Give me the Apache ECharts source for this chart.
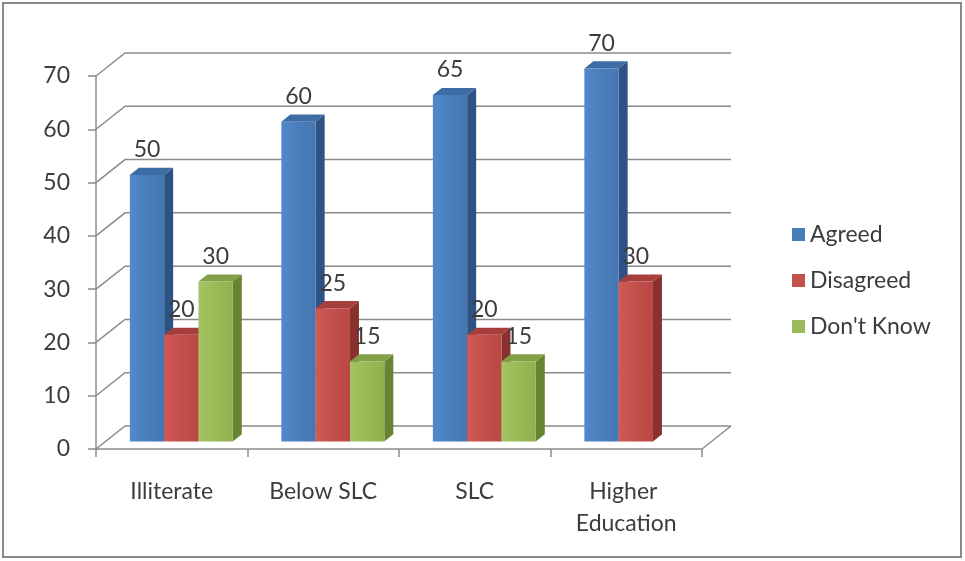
<!DOCTYPE html>
<html>
<head>
<meta charset="utf-8">
<script src="https://cdn.jsdelivr.net/npm/echarts@6/dist/echarts.min.js"></script>
<style>
  html, body { margin: 0; padding: 0; background: #fff; }
  #chart { width: 965px; height: 561px; }
</style>
</head>
<body>
<div id="chart"></div>
<script>
// Survey responses by education level
const categories = ['Illiterate', 'Below SLC', 'SLC', 'Higher Education'];
const agreed = [50, 60, 65, 70];
const disagreed = [20, 25, 20, 30];
const dontKnow = [30, 15, 15, '-'];
const seriesNames = ['Agreed', 'Disagreed', "Don't Know"];
const wallTicks = [0, 10, 20, 30, 40, 50, 60, 70];

// Pseudo-3D depth of the plot box (front plane -> back wall), in pixels
const DEPTH_X = 29;
const DEPTH_Y = -23;
const BAR_FRONT = 0.33;   // bars start this far into the depth
const BAR_DEPTH = 0.31;   // and are this deep
const BAR_RATIO = 0.2265; // single bar width / category width

const FONT = 'Lato, "Liberation Sans", sans-serif';
const TEXT_COLOR = '#3c3c3c';
const LINE_COLOR = '#8c8c8c';

const palette = [
  { front: ['#5089cb', '#4a7ebb', '#4477b2'], side: '#2d5283', top: '#3e6ca5' },
  { front: ['#d05955', '#c44f4b', '#b94845'], side: '#8a302e', top: '#a63f3c' },
  { front: ['#a4c463', '#9aba58', '#90b04f'], side: '#678433', top: '#82a045' }
];

function wallRender(params, api) {
  const v = api.value(1);
  const y = api.coord([0, v])[1];
  const cs = params.coordSys;
  const x0 = cs.x, x1 = cs.x + cs.width;
  const style = { stroke: LINE_COLOR, lineWidth: 1.5, fill: null };
  const children = [{
    type: 'polyline',
    shape: { points: [[x0, y], [x0 + DEPTH_X, y + DEPTH_Y], [x1 + DEPTH_X, y + DEPTH_Y]] },
    style: style
  }];
  if (v === 0) {
    children.push({
      type: 'line',
      shape: { x1: x1, y1: y, x2: x1 + DEPTH_X, y2: y + DEPTH_Y },
      style: style
    });
  }
  return { type: 'group', children: children };
}

function barRender(k) {
  return function (params, api) {
    const i = api.value(0);
    const v = api.value(1);
    if (isNaN(v)) return null;
    const topPt = api.coord([i, v]);
    const basePt = api.coord([i, 0]);
    const catW = api.size([1, 0])[0];
    const bw = catW * BAR_RATIO;
    const ox = DEPTH_X * BAR_FRONT, oy = DEPTH_Y * BAR_FRONT;
    const sdx = DEPTH_X * BAR_DEPTH, sdy = DEPTH_Y * BAR_DEPTH;
    const left = topPt[0] - 1.5 * bw + k * bw + ox;
    const right = left + bw;
    const yt = topPt[1] + oy;
    const yb = basePt[1] + oy;
    const c = palette[k];
    return {
      type: 'group',
      children: [
        {
          type: 'polygon',
          shape: { points: [[right, yt], [right + sdx, yt + sdy], [right + sdx, yb + sdy], [right, yb]] },
          style: { fill: c.side }
        },
        {
          type: 'polygon',
          shape: { points: [[left, yt], [right, yt], [right + sdx, yt + sdy], [left + sdx, yt + sdy]] },
          style: { fill: c.top }
        },
        {
          type: 'rect',
          shape: { x: left, y: yt, width: bw, height: yb - yt },
          style: {
            fill: new echarts.graphic.LinearGradient(0, 0, 1, 0, [
              { offset: 0, color: c.front[0] },
              { offset: 0.5, color: c.front[1] },
              { offset: 1, color: c.front[2] }
            ])
          }
        },
        {
          type: 'text',
          z2: 10,
          style: {
            text: String(v),
            x: left + bw / 2,
            y: yt - 25,
            align: 'center',
            verticalAlign: 'middle',
            font: '23px ' + FONT,
            fill: TEXT_COLOR
          }
        }
      ]
    };
  };
}

const valueSets = [agreed, disagreed, dontKnow];

const chart = echarts.init(document.getElementById('chart'), null, { renderer: 'canvas' });

chart.setOption({
  animation: false,
  backgroundColor: '#ffffff',
  graphic: [{
    type: 'rect',
    shape: { x: 3, y: 3, width: 958, height: 554 },
    style: { fill: null, stroke: '#8a8a8a', lineWidth: 2 },
    z: -10
  }],
  grid: { left: 96, right: 263, top: 76, bottom: 112 },
  legend: {
    orient: 'vertical',
    left: 787,
    top: 218,
    icon: 'rect',
    itemWidth: 13,
    itemHeight: 13,
    itemGap: 23,
    data: seriesNames,
    textStyle: { fontFamily: FONT, fontSize: 23, color: TEXT_COLOR, lineHeight: 23 }
  },
  xAxis: {
    type: 'category',
    data: categories,
    axisLine: { show: true, lineStyle: { color: LINE_COLOR, width: 1.5 } },
    axisTick: { show: true, length: 8, lineStyle: { color: LINE_COLOR, width: 1.5 } },
    axisLabel: {
      fontFamily: FONT, fontSize: 23, color: TEXT_COLOR,
      margin: 27, lineHeight: 32, width: 140, overflow: 'break', interval: 0
    },
    splitLine: { show: false }
  },
  yAxis: {
    type: 'value',
    min: 0,
    max: 70,
    interval: 10,
    axisLine: { show: true, lineStyle: { color: LINE_COLOR, width: 1.5 } },
    axisTick: { show: true, length: 8, lineStyle: { color: LINE_COLOR, width: 1.5 } },
    axisLabel: { fontFamily: FONT, fontSize: 23, color: TEXT_COLOR, margin: 26 },
    splitLine: { show: false }
  },
  series: [
    {
      type: 'custom',
      name: 'wall',
      silent: true,
      z: 1,
      renderItem: wallRender,
      encode: { x: 0, y: 1 },
      data: wallTicks.map(v => [0, v])
    }
  ].concat(seriesNames.map((name, k) => ({
    type: 'custom',
    name: name,
    z: 2,
    itemStyle: { color: palette[k].front[1] },
    renderItem: barRender(k),
    encode: { x: 0, y: 1 },
    data: valueSets[k].map((v, i) => [i, v])
  })))
});
</script>
</body>
</html>
